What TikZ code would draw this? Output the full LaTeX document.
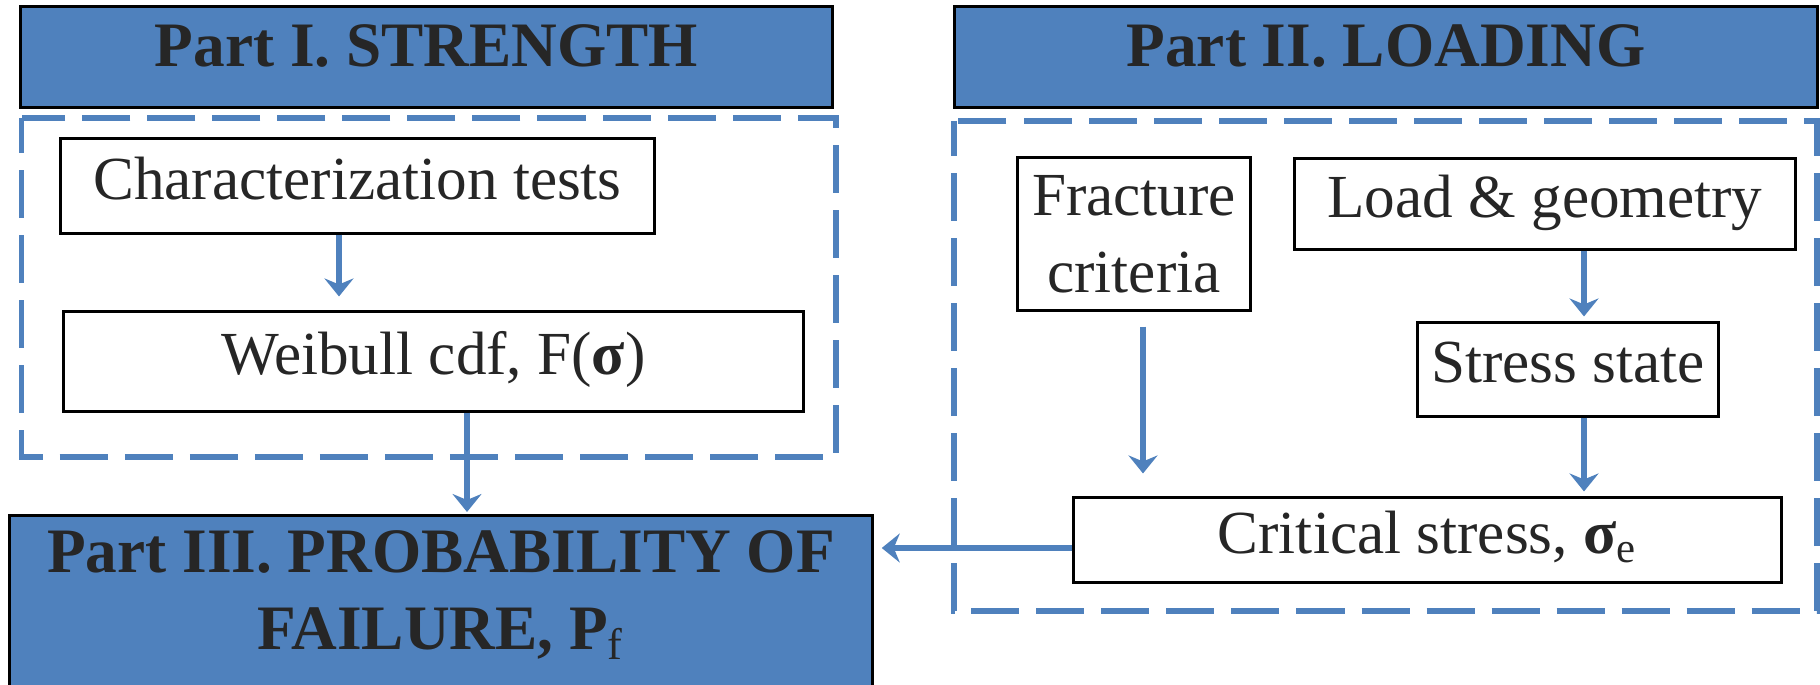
\documentclass[tikz,border=0pt]{standalone}
\usepackage{fontspec}
\setmainfont{Liberation Serif}
\usetikzlibrary{arrows.meta}

\definecolor{partblue}{RGB}{79,129,189}
\definecolor{inkgray}{RGB}{38,38,38}

\begin{document}
\begin{tikzpicture}[x=0.01cm, y=-0.01cm,
    partbox/.style={draw=black, line width=0.85pt, fill=partblue, text=inkgray,
      font=\fontsize{18}{21.8}\selectfont\bfseries, inner sep=0pt},
    plainbox/.style={draw=black, line width=0.85pt, fill=white, text=inkgray,
      font=\fontsize{17.4}{22}\selectfont, inner sep=0pt},
    stepbox/.style={plainbox, text height=0.45cm, text depth=0.19cm},
    groupframe/.style={draw=partblue, line width=1.65pt,
      dash pattern=on 0.48cm off 0.17cm, dash phase=0.13cm},
    flow/.style={draw=partblue, line width=1.7pt,
      -{Stealth[length=0.18cm, width=0.29cm, inset=0.06cm]}}]

  \clip (0,0) rectangle (1820,685);

  %--------------------------
  % Part I: strength
  %--------------------------
  \draw[groupframe] (21.5,118) rectangle (836,457);
  \node[partbox, minimum width=8.11cm, minimum height=1cm,
        text height=0.5cm, text depth=0.32cm] (partI) at (426.5,57) {Part I. STRENGTH};
  \node[stepbox, minimum width=5.93cm, minimum height=0.94cm] (charact) at (357.5,186)
    {Characterization tests};
  \node[stepbox, minimum width=7.39cm, minimum height=0.99cm] (weibull) at (433.5,361.5)
    {Weibull cdf, F(\textbf{σ})};

  %--------------------------
  % Part II: loading
  %--------------------------
  \draw[groupframe] (954,121) rectangle (1817,611);
  \node[partbox, minimum width=8.62cm, minimum height=1cm,
        text height=0.5cm, text depth=0.32cm] (partII) at (1386,57) {Part II. LOADING};
  \node[plainbox, align=center, minimum width=2.32cm, minimum height=1.52cm] (fracture)
    at (1134,234) {Fracture\\criteria};
  \node[stepbox, minimum width=5cm, minimum height=0.9cm] (load) at (1545,204)
    {Load \& geometry};
  \node[stepbox, minimum width=3cm, minimum height=0.93cm] (stress) at (1568,369.5)
    {Stress state};
  \node[stepbox, minimum width=7.07cm, minimum height=0.84cm] (critical) at (1427.5,540)
    {Critical stress, \textbf{σ}\textsubscript{e}};

  %--------------------------
  % Part III: probability of failure
  %--------------------------
  \node[partbox, anchor=north, minimum width=8.62cm, minimum height=2.2cm] (partIII)
    at (441,514) {};
  \node[anchor=north, inner sep=0pt, align=center, text=inkgray,
        font=\fontsize{18}{21.8}\selectfont\bfseries] (partIIItext) at (441,530)
    {Part III. PROBABILITY OF\\FAILURE, P\textsubscript{\mdseries f}};

  % connectors
  \coordinate (charactout) at ([xshift=-0.185cm]charact.south);
  \draw[flow, shorten >=0.14cm] (charactout) -- (charactout |- weibull.north);
  \coordinate (weibullout) at ([xshift=0.335cm]weibull.south);
  \draw[flow, shorten >=0.02cm] (weibullout) -- (weibullout |- partIII.north);
  \coordinate (fractureout) at ([xshift=0.09cm]fracture.south);
  \draw[flow, shorten <=0.15cm, shorten >=0.23cm] (fractureout) -- (fractureout |- critical.north);
  \coordinate (loadout) at ([xshift=0.39cm]load.south);
  \draw[flow, shorten >=0.05cm] (loadout) -- (loadout |- stress.north);
  \coordinate (stressout) at (stress.south -| loadout);
  \draw[flow, shorten >=0.05cm] (stressout) -- (stressout |- critical.north);
  \coordinate (criticalout) at ([yshift=-0.08cm]critical.west);
  \draw[flow, shorten >=0.08cm] (criticalout) -- (criticalout -| partIII.east);

\end{tikzpicture}
\end{document}
